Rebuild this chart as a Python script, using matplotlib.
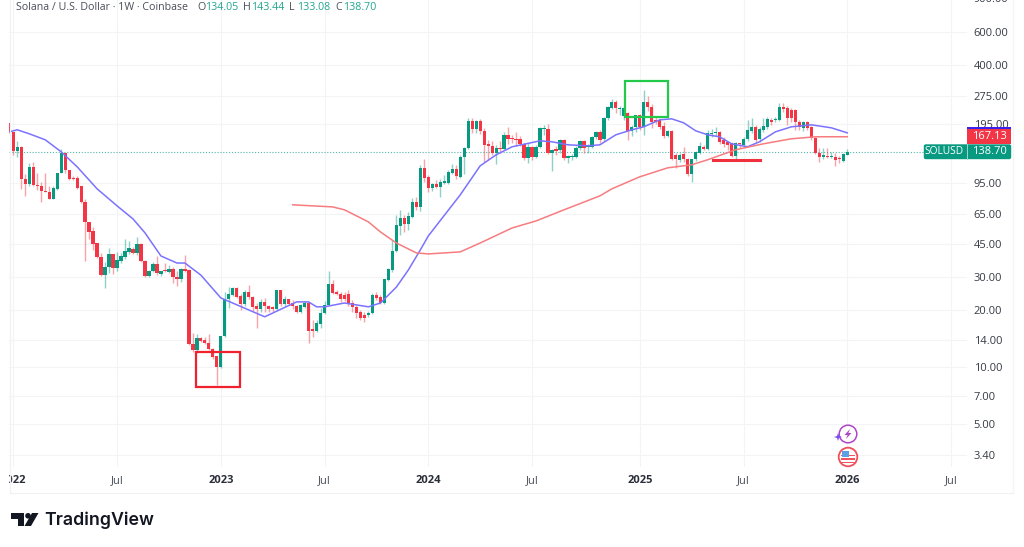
import numpy as np
import matplotlib
matplotlib.use('Agg')
import matplotlib.pyplot as plt
from matplotlib.patches import Circle, Polygon, Rectangle, FancyBboxPatch
from matplotlib.ticker import FixedLocator, NullLocator
from matplotlib.transforms import Bbox

plt.rcParams['font.family'] = ['Open Sans', 'DejaVu Sans']

# weekly candles, first one is the week before 2022 starts
opens = [198,
    178, 141, 148, 100, 94, 116, 93, 92, 86, 85,
    78, 88, 107, 137, 111, 101, 101, 91, 75.4, 59,
    53, 45.6, 38.4, 30.8, 34, 39.9, 33.6, 36.6, 38.4, 40.9,
    42.4, 40.4, 45.1, 36.6, 30.5, 32.4, 35.3, 31.2, 32.8, 32,
    33.2, 30.1, 29.4, 33.2, 32.8, 13.2, 12.3, 14.3, 13.9, 13.4,
    12.5, 11.4, 10, 14.6, 23, 24.2, 26.3, 23.9, 21.7, 25.1,
    23.6, 21.1, 20.4, 22.2, 21.1, 20.9, 20.4, 25.7, 21.7, 23,
    21.9, 21.1, 19.6, 20.9, 21.9, 15.9, 15.6, 16.9, 19.4, 21.4,
    27.6, 25.1, 24.5, 24.2, 24.5, 21.9, 20.9, 19.6, 18.9, 18.9,
    19.4, 24.2, 23.6, 21.9, 29, 32.8, 41.4, 56.2, 62, 57.6,
    62.7, 75.4, 70.9, 114.3, 102.4, 89.5, 94, 90.6, 95.1, 95.1,
    107.5, 112.9, 102.4, 130.8, 146, 203, 184.1, 203, 179.7, 153.3,
    149.6, 137.3, 146, 144.2, 171.1, 165, 163, 163, 153.3, 129.2,
    147.8, 130.8, 147.8, 184.1, 184.1, 137.3, 144.2, 142.5, 161, 129.2,
    130.8, 130.8, 146, 159, 147.8, 147.8, 167, 177.5, 163, 210.6,
    238, 256, 235, 215.8, 223.8, 179.7, 188.7, 218.5, 188.7, 256,
    241, 205.5, 205.5, 191, 169, 179.7, 134, 126.1, 135.6, 127.6,
    106.2, 127.6, 137.3, 147.8, 144.2, 173.2, 175.3, 177.5, 161, 157.1,
    155.2, 132.4, 155.2, 151.4, 163, 179.7, 188.7, 163, 181.9, 188.7,
    205.5, 205.5, 205.5, 241, 238, 232, 232, 200.6, 186.4, 200.6,
    188.7, 165, 137.3, 130.8, 132.4, 130.8, 130.8, 129.2, 124.5, 134.05]
highs = [198,
    178, 159, 150, 106, 121, 123, 107, 96, 107, 91,
    92, 107, 144, 137, 111, 104, 104, 92, 78, 59,
    55.5, 45.6, 40.4, 36.2, 42.9, 40, 40.9, 40.4, 47.9, 46.8,
    43.4, 49.1, 45.6, 37, 32.8, 36.2, 38.9, 32.4, 35.7, 34.9,
    34, 32.4, 33.6, 39.4, 33, 15.2, 15, 14.4, 14.4, 15,
    12.6, 11.5, 14.6, 25.1, 26.6, 26.6, 26.6, 24.5, 25.7, 27.3,
    23.9, 21.9, 23, 23.3, 21.4, 21.1, 25.7, 25.7, 23.9, 23,
    22.7, 21.4, 21.7, 22.5, 22.2, 17.8, 17.8, 20.6, 22.5, 32.4,
    29, 25.7, 25.1, 25.1, 25.7, 22.7, 21.4, 20.1, 19.6, 19.9,
    24.8, 25.1, 24.2, 29.4, 33.6, 47.3, 64.3, 68.4, 64.3, 66.7,
    79.2, 80.1, 118.6, 127.6, 104.9, 95, 98.7, 99.9, 104.9, 111.5,
    120, 118.6, 134, 147.8, 210.6, 210.6, 205.5, 208, 186.4, 161,
    159, 151.4, 159, 177.5, 188.7, 171.1, 177.5, 169, 155.2, 155.2,
    149.6, 151.4, 188.7, 193.3, 195.7, 144.2, 149.6, 163, 163, 134,
    135.6, 149.6, 161, 161, 153.3, 169, 179.7, 181.9, 213.2, 244,
    266, 262, 244, 247, 226.6, 193, 219, 221, 296, 275,
    250, 213.2, 210.6, 200.6, 181, 181.9, 137.3, 137.3, 147.8, 129.2,
    128, 140.7, 157.1, 151.4, 181.9, 184.1, 188.7, 180, 167, 159,
    157.1, 157.1, 155.2, 167, 205.5, 210.6, 193.3, 188.7, 210.6, 213.2,
    210.6, 213.2, 253, 253, 244, 238, 235, 205.5, 203, 203,
    191, 167, 146, 146, 146, 139, 137.3, 132.4, 137.3, 143.44]
lows = [175,
    134, 131, 88, 81, 91, 92, 87, 75, 85, 78,
    78, 87, 107, 107, 99, 99, 88, 74.5, 36.6, 48,
    42, 38, 30.5, 26.3, 31.6, 31.2, 32.4, 35.7, 37.5, 39.9,
    39.9, 39.4, 36.2, 30.1, 30.1, 32, 30.8, 30.5, 32, 31.6,
    28, 27, 28.3, 32, 13.1, 12, 11.9, 13.6, 13.2, 12.3,
    11.1, 8.04, 9.85, 14.5, 20.6, 23.9, 23.3, 20.1, 21.1, 23,
    19.9, 16.2, 19.6, 19.6, 19.6, 19.6, 20.1, 21.1, 21.1, 21.4,
    20.4, 19.4, 19.4, 20.6, 13.4, 14.4, 15.4, 16.2, 19.2, 21.4,
    24.5, 24.2, 22.2, 22.5, 21.1, 19.6, 18.2, 17.8, 17.4, 18.5,
    19.2, 22.7, 21.7, 21.7, 28.7, 32, 40.9, 50.3, 52.2, 53.5,
    62, 68.4, 67.5, 96.3, 85.2, 86.2, 89.5, 80.1, 94, 94,
    106.2, 99.9, 101.1, 106.2, 144.2, 175.3, 175.3, 173.2, 123, 126.1,
    134, 120, 137.3, 142.5, 153.3, 155.2, 149.6, 149.6, 126.1, 121.5,
    126.1, 129.2, 146, 171.1, 135.6, 110.2, 134, 137.3, 126.1, 121.5,
    126.1, 129.2, 142.5, 137.3, 137.3, 146, 163, 155.2, 159, 205.5,
    235, 223.8, 218.5, 205.5, 161, 169, 177.5, 181.9, 171.1, 229,
    186.4, 195.7, 184.1, 165, 167, 126.1, 114.3, 123, 123, 103.6,
    96.3, 124.5, 135.6, 142.5, 142.5, 167, 169, 153.3, 147.8, 142.5,
    130, 126.1, 146, 149.6, 159, 175.3, 157.1, 157.1, 177.5, 184.1,
    193.3, 200.6, 203, 226.6, 193.3, 200.6, 181.9, 181.9, 179.7, 181.9,
    161, 135.6, 123, 127.6, 129.2, 129.2, 117.1, 121.5, 123, 133.08]
closes = [178,
    141, 148, 100, 94, 116, 93, 91, 86, 85, 78,
    89.5, 107, 137, 111, 100, 100, 89.5, 75.4, 59, 52,
    45, 38.4, 30.8, 34, 39.9, 33.6, 37.1, 38.9, 41.4, 42.9,
    40.4, 45.1, 36.6, 30.5, 32.4, 35.3, 31.6, 32.4, 32.4, 33.2,
    30.1, 29.4, 33.2, 32.4, 13.2, 12.3, 14.3, 13.8, 13.4, 12.5,
    11.3, 10, 14.6, 23, 24.5, 26.3, 23.6, 21.7, 25.1, 23.6,
    20.9, 20.4, 22.2, 21.1, 20.4, 20.4, 25.7, 21.7, 23, 21.7,
    21.1, 19.6, 21.4, 21.9, 15.6, 15.6, 17.2, 19.4, 21.4, 27.6,
    24.8, 24.5, 23, 23, 21.7, 20.9, 19.4, 18.2, 18.2, 19.4,
    24.2, 23.3, 21.9, 29.4, 33.2, 41.4, 56.9, 62, 57.6, 63.5,
    75.4, 70.9, 114.3, 101.1, 89.5, 94, 90.6, 96.3, 97.5, 108.8,
    112.9, 103.6, 130.8, 146, 203, 184.1, 203, 179.7, 151.4, 149.6,
    137.3, 146, 144.2, 171.1, 163, 163, 161, 153.3, 129.2, 147.8,
    130.8, 147.8, 186.4, 186.4, 137.3, 142.5, 140.7, 161, 129.2, 132.4,
    132.4, 146, 159, 146, 149.6, 167, 177.5, 161, 210.6, 241,
    256, 238, 238, 238, 179.7, 188.7, 218.5, 188.7, 256, 241,
    200.6, 200.6, 188.7, 169, 179.7, 127.6, 127.6, 134, 127.6, 106.2,
    127.6, 139, 149.6, 144.2, 175.3, 175.3, 177.5, 157.1, 153.3, 151.4,
    132.4, 155.2, 153.3, 163, 181.9, 188.7, 161, 184.1, 191, 208,
    200.6, 208, 241, 235, 210.6, 210.6, 200.6, 188.7, 200.6, 186.4,
    165, 137.3, 130.8, 134, 130.8, 132.4, 126.1, 127.6, 135.6, 138.70]

fast_weeks = [-1, 1, 4, 8, 12, 16, 21, 26, 30, 33, 37, 41, 43, 47, 52, 63, 71, 74, 76, 78,
              83, 89, 92, 96, 99, 102, 104, 112, 117, 121, 125, 132, 135, 139, 144, 147,
              151, 155, 158, 162, 165, 168, 171, 174, 177, 180, 184, 187, 191, 195, 200, 205, 209]
fast_ma = [177.5, 181.9, 173.2, 161, 139, 115.7, 88.4, 71.8, 61.2, 51.6, 38.9, 35.7, 35.7, 30.8, 23.3,
           18.5, 22.2, 22.2, 20.9, 20.9, 21.9, 20.9, 21.9, 26.6, 32.8, 41.9, 49.7, 82.1, 117.1, 134,
           147.8, 159, 157.1, 151.4, 149.6, 151.4, 171.1, 181.9, 188.7, 205.5, 208, 198.1, 179.7,
           171.1, 167, 153.3, 147.8, 157.1, 177.5, 188.7, 193.3, 186.4, 175.3]
slow_weeks = [70, 80, 83, 89, 92, 96, 101, 104, 112, 117, 125, 131, 138, 147, 150, 157, 164,
              170, 174, 181, 188, 195, 201, 209]
slow_ma = [72.7, 70.9, 68.4, 59, 52.2, 45.6, 40.4, 39.9, 40.9, 45.6, 54.8, 59.7, 68.4, 81.1, 88.4,
           102.4, 114.3, 118.6, 126.1, 142.5, 153.3, 163, 167, 167.13]

price_ticks = [3.4, 5, 7, 10, 14, 20, 30, 45, 65, 95, 195, 275, 400, 600]
time_ticks = [0, 26, 52, 78, 104, 130, 157, 183, 209, 235]
time_labels = ['2022', 'Jul', '2023', 'Jul', '2024', 'Jul', '2025', 'Jul', '2026', 'Jul']
year_labels = ['2022', '2023', '2024', '2025', '2026']
last_price = 138.70
red_box = [45.8, 56.8, 7.8, 12]
green_box = [153.2, 164, 213.2, 330]
support_line = [175.4, 187.1, 126]

RED = '#f23645'
GREEN = '#089981'
W, H = 1024, 547

fig = plt.figure(figsize=(W / 100, H / 100), dpi=100, facecolor='white')
ax = fig.add_axes([9 / W, 1 - 467 / H, (967 - 9) / W, 467 / H])
ax.set_yscale('log')
ax.set_xlim(-1.08, 239)
ax.set_ylim(2.95, 889)

weeks = np.arange(len(opens)) - 1
opens = np.array(opens, dtype=float)
closes = np.array(closes, dtype=float)
colors = [GREEN if c >= o else RED for o, c in zip(opens, closes)]

ax.vlines(weeks, lows, highs, colors=colors, linewidth=1, alpha=0.45, zorder=3)
ax.bar(weeks, np.abs(closes - opens), bottom=np.minimum(opens, closes), width=0.82,
       color=colors, linewidth=0, zorder=4)
ax.plot(fast_weeks, fast_ma, color='#7b72ff', linewidth=1.1, zorder=5)
ax.plot(slow_weeks, slow_ma, color='#f77c80', linewidth=1.1, zorder=5)

# last price line
ax.axhline(last_price, color=GREEN, linewidth=0.8, linestyle=(0, (1, 1.6)), alpha=0.7, zorder=2)

# hand drawn boxes on the chart
ax.add_patch(Rectangle((red_box[0], red_box[2]), red_box[1] - red_box[0], red_box[3] - red_box[2],
                       fill=False, edgecolor='#f0202c', linewidth=1.6, zorder=6))
ax.add_patch(Rectangle((green_box[0], green_box[2]), green_box[1] - green_box[0], green_box[3] - green_box[2],
                       fill=False, edgecolor='#22c94a', linewidth=1.6, zorder=6))
ax.plot(support_line[:2], [support_line[2]] * 2, color='#f0303c', linewidth=2.2, zorder=6)

ax.grid(True, color='#f3f4f6', linewidth=0.8, zorder=0)
ax.set_axisbelow(True)
ax.xaxis.set_major_locator(FixedLocator(time_ticks))
ax.set_xticklabels(time_labels)
ax.yaxis.set_major_locator(FixedLocator(price_ticks))
ax.yaxis.set_minor_locator(NullLocator())
ax.yaxis.set_major_formatter(lambda v, pos: f'{v:.2f}')
ax.yaxis.tick_right()
ax.tick_params(axis='y', length=0, pad=4.8, labelsize=8, labelcolor='#363a45')
ax.tick_params(axis='x', length=0, pad=6, labelsize=8, labelcolor='#4a4e59')
for spine in ax.spines.values():
    spine.set_visible(False)
for lab in ax.get_xticklabels():
    if lab.get_text() in year_labels:
        lab.set_fontweight('bold')
        lab.set_color('#2a2e39')
    if lab.get_text() == '2022':
        # this label gets cut by the left edge of the pane
        lab.set_clip_on(True)
        lab.set_clip_box(Bbox([[9, 0], [W, H]]))

# overlay in pixel coordinates for the decoration
ov = fig.add_axes([0, 0, 1, 1], zorder=10)
ov.set_xlim(0, W)
ov.set_ylim(H, 0)
ov.axis('off')
ov.patch.set_alpha(0)

# frame
ov.plot([9.5, 9.5], [0, 493], color='#f0f1f3', linewidth=0.9)
ov.plot([9.5, 1013], [493, 493], color='#f0f1f3', linewidth=0.9)
ov.plot([1013, 1013], [0, 493], color='#f4f5f6', linewidth=0.9)

# the top axis label is cut by the image edge
ov.text(974, -1, '900.00', fontsize=8, color='#363a45', va='center')

# header line
ov.text(16.5, 7, 'Solana / U.S. Dollar · 1W · Coinbase', fontsize=7.65, color='#4a4e59', va='center')
for x, letter, val in [(197, 'O', '134.05'), (243, 'H', '143.44'), (289, 'L', '133.08'), (335, 'C', '138.70')]:
    ov.text(x, 7, letter, fontsize=7.65, color='#4a4e59', va='center')
    ov.text(x + 8, 7, val, fontsize=7.65, color='#22a68f', va='center')

# price tags on the axis
ov.add_patch(Rectangle((967, 129), 44, 15, facecolor=RED, linewidth=0))
ov.add_patch(Rectangle((967, 127), 44, 2, facecolor='#3a22ee', linewidth=0))
ov.text(989, 136.5, '167.13', fontsize=8, color='white', va='center', ha='center')
ov.add_patch(FancyBboxPatch((925, 145.5), 85, 12.5, boxstyle='round,pad=1.2,rounding_size=2',
                            facecolor=GREEN, linewidth=0))
ov.plot([966.5, 966.5], [144, 159], color='#9fd6cb', linewidth=0.7)
ov.text(944.5, 152, 'SOLUSD', fontsize=7.3, color='white', va='center', ha='center')
ov.text(989, 152, '138.70', fontsize=8, color='white', va='center', ha='center')

# event icons under the last candle
ov.add_patch(Circle((848, 434), 8.8, facecolor='white', edgecolor='#b045c8', linewidth=1.1))
ov.add_patch(Polygon([(850, 429), (844.5, 435), (847.6, 435), (846, 439), (851.5, 433), (848.4, 433)],
                     facecolor='#b045c8', linewidth=0))
ov.add_patch(Polygon([(838, 433), (839, 436), (842, 437), (839, 438), (838, 441), (837, 438), (834, 437), (837, 436)],
                     facecolor='#7a4df0', linewidth=0))
ov.add_patch(Circle((848, 457), 9.3, facecolor='white', edgecolor='#f0505a', linewidth=1.3))
for y0 in [454.5, 458, 461.5]:
    ov.add_patch(Rectangle((841, y0), 14, 1.7, facecolor='#ee5560', linewidth=0))
ov.add_patch(Rectangle((842, 450.5), 7, 6, facecolor='#5aa0e6', linewidth=0))

# TradingView logo
ov.add_patch(Polygon([(11, 513), (24, 513), (24, 526), (17.5, 526), (17.5, 519), (11, 519)],
                     facecolor='#131722', linewidth=0))
ov.add_patch(Circle((28, 515.8), 2.8, facecolor='#131722', linewidth=0))
ov.add_patch(Polygon([(32, 513), (38.5, 513), (31, 526), (24.5, 526)], facecolor='#131722', linewidth=0))
ov.text(44.5, 520, 'TradingView', fontsize=12.8, color='#131722', va='center', fontfamily=['Inter', 'DejaVu Sans'],
        fontweight='semibold')

fig.savefig('out.png', dpi=100, facecolor='white')
